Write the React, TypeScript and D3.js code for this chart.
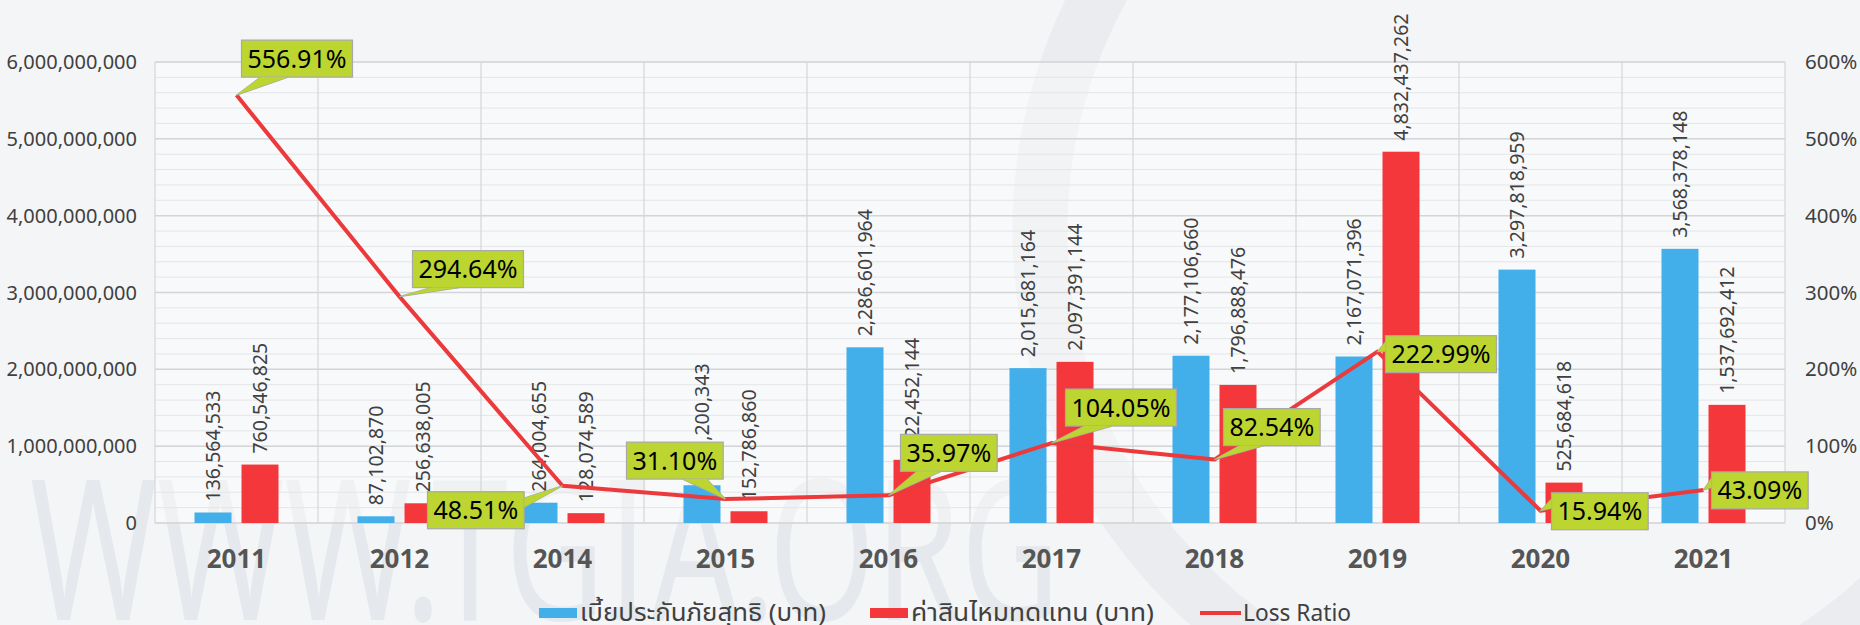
import React, { useEffect, useRef } from 'react';
import * as d3 from 'd3';

// years shown on the category axis
const years = ['2011', '2012', '2014', '2015', '2016', '2017', '2018', '2019', '2020', '2021'];
// net premium (baht)
const premiums = [136564533, 87102870, 264004655, 491200343, 2286601964, 2015681164, 2177106660, 2167071396, 3297818959, 3568378148];
// claims paid (baht)
const claims = [760546825, 256638005, 128074589, 152786860, 822452144, 2097391144, 1796888476, 4832437262, 525684618, 1537692412];
// loss ratio (%)
const lossRatios = [556.91, 294.64, 48.51, 31.1, 35.97, 104.05, 82.54, 222.99, 15.94, 43.09];

const leftTicks = [0, 1e9, 2e9, 3e9, 4e9, 5e9, 6e9];
const rightTicks = [0, 100, 200, 300, 400, 500, 600];
const seriesNames = ['เบี้ยประกันภัยสุทธิ (บาท)', 'ค่าสินไหมทดแทน (บาท)', 'Loss Ratio'];

// where each callout box sits, relative to its point (top-left corner)
const calloutOffsets = [
  [5, -55], [13, -46], [-135, 6], [-99, -57], [12, -61],
  [14, -54], [9, -51], [8, -16], [11, -18], [8, -18],
];
// legend: x of each swatch and the width its text takes
const legendX = [539, 870, 1200];
const legendTextW = [246, 243, 108];

const BLUE = '#42AEEA';
const RED = '#F4373B';
const LIME = '#BCD530';
const FONT = "'Noto Sans', 'Noto Sans Thai', Tahoma, sans-serif";

const App = () => {
  const ref = useRef<SVGSVGElement>(null);

  useEffect(() => {
    const svg = d3.select(ref.current);
    svg.selectAll('*').remove();

    const width = 1860;
    const height = 625;
    const left = 155;
    const right = 1785;
    const top = 62;
    const bottom = 523;

    // background + watermark
    svg.append('rect').attr('width', width).attr('height', height).attr('fill', '#F4F5F7');
    svg
      .append('circle')
      .attr('cx', 1540)
      .attr('cy', 230)
      .attr('r', 500)
      .attr('fill', 'none')
      .attr('stroke', '#EAECEF')
      .attr('stroke-width', 55);
    svg
      .append('text')
      .attr('x', 30)
      .attr('y', 620)
      .attr('font-family', FONT)
      .attr('font-size', 195)
      .attr('textLength', 1030)
      .attr('lengthAdjust', 'spacingAndGlyphs')
      .attr('fill', '#E5E8EC')
      .text('WWW.TGIA.ORG');

    svg
      .append('rect')
      .attr('x', left)
      .attr('y', top)
      .attr('width', right - left)
      .attr('height', bottom - top)
      .attr('fill', '#FFFFFF')
      .attr('opacity', 0.4);

    // scales
    const x = d3.scaleBand().domain(years).range([left, right]).padding(0);
    const x1 = d3.scaleBand().domain(['p', 'c']).range([-42, 42]).paddingInner(0.213);
    const y = d3.scaleLinear().domain([0, 6e9]).range([bottom, top]);
    const yR = d3.scaleLinear().domain([0, 600]).range([bottom, top]);

    // grid
    const grid = svg.append('g');
    grid
      .selectAll('.minor')
      .data(d3.range(0, 6e9 + 1, 2e8))
      .enter()
      .append('line')
      .attr('x1', left)
      .attr('x2', right)
      .attr('y1', (d) => y(d))
      .attr('y2', (d) => y(d))
      .attr('stroke', '#E4E5E7')
      .attr('stroke-width', 1);
    grid
      .selectAll('.major')
      .data(leftTicks)
      .enter()
      .append('line')
      .attr('x1', left)
      .attr('x2', right)
      .attr('y1', (d) => y(d))
      .attr('y2', (d) => y(d))
      .attr('stroke', '#D4D5D7')
      .attr('stroke-width', 1.5);
    grid
      .selectAll('.vert')
      .data(d3.range(years.length + 1))
      .enter()
      .append('line')
      .attr('x1', (i) => left + i * x.step())
      .attr('x2', (i) => left + i * x.step())
      .attr('y1', top)
      .attr('y2', bottom)
      .attr('stroke', '#D4D5D7')
      .attr('stroke-width', 1.2);

    // bars
    const groups = svg
      .selectAll('.year')
      .data(years)
      .enter()
      .append('g')
      .attr('transform', (d) => `translate(${(x(d) as number) + x.bandwidth() / 2},0)`);

    groups
      .append('rect')
      .attr('x', x1('p') as number)
      .attr('width', x1.bandwidth())
      .attr('y', (d, i) => y(premiums[i]))
      .attr('height', (d, i) => bottom - y(premiums[i]))
      .attr('fill', BLUE);
    groups
      .append('rect')
      .attr('x', x1('c') as number)
      .attr('width', x1.bandwidth())
      .attr('y', (d, i) => y(claims[i]))
      .attr('height', (d, i) => bottom - y(claims[i]))
      .attr('fill', RED);

    // bar value labels (rotated)
    const fmt = d3.format(',');
    const barLabel = (key: string, vals: number[]) =>
      groups
        .append('text')
        .attr('transform', (d, i) => `translate(${(x1(key) as number) + x1.bandwidth() / 2 + 7},${y(vals[i]) - 11}) rotate(-90)`)
        .attr('font-family', FONT)
        .attr('font-size', 19.5)
        .attr('fill', '#404040')
        .text((d, i) => fmt(vals[i]));
    barLabel('p', premiums);
    barLabel('c', claims);

    // loss ratio line
    const line = d3
      .line<number>()
      .x((d, i) => (x(years[i]) as number) + x.bandwidth() / 2)
      .y((d) => yR(d));
    svg
      .append('path')
      .datum(lossRatios)
      .attr('d', line)
      .attr('fill', 'none')
      .attr('stroke', '#EC3A3C')
      .attr('stroke-width', 4)
      .attr('stroke-linejoin', 'round');

    // callouts
    lossRatios.forEach((v, i) => {
      const tx = (x(years[i]) as number) + x.bandwidth() / 2;
      const ty = yR(v);
      const g = svg.append('g');
      const label = g
        .append('text')
        .attr('font-family', FONT)
        .attr('font-size', 25)
        .attr('fill', '#000')
        .attr('text-anchor', 'middle')
        .text(d3.format('.2f')(v) + '%');
      const w = (label.node() as SVGTextElement).getComputedTextLength() + 12;
      const h = 37;
      const bx = tx + calloutOffsets[i][0];
      const by = ty + calloutOffsets[i][1];
      const cx = bx + w / 2;
      const cy = by + h / 2;
      const dxn = (tx - cx) / w;
      const dyn = (ty - cy) / h;
      let pts: number[][];
      if (Math.abs(dxn) > Math.abs(dyn)) {
        const ex = dxn > 0 ? bx + w : bx;
        const f = dyn < 0 ? [0.17, 0.42] : [0.58, 0.83];
        pts = [[ex, by + h * f[0]], [tx, ty], [ex, by + h * f[1]]];
      } else {
        const ey = dyn > 0 ? by + h : by;
        const f = dxn < 0 ? [0.17, 0.42] : [0.58, 0.83];
        pts = [[bx + w * f[0], ey], [tx, ty], [bx + w * f[1], ey]];
      }
      const wedge = d3.line()(pts as [number, number][]) + 'Z';
      g.insert('path', 'text').attr('d', wedge).attr('fill', LIME).attr('stroke', '#A8A8A8').attr('stroke-width', 1.2);
      g.insert('rect', 'text')
        .attr('x', bx)
        .attr('y', by)
        .attr('width', w)
        .attr('height', h)
        .attr('fill', LIME)
        .attr('stroke', '#A8A8A8')
        .attr('stroke-width', 1.2);
      // cover the seam between wedge and box
      g.insert('path', 'text').attr('d', wedge).attr('fill', LIME);
      label.attr('x', cx).attr('y', cy + 9);
    });

    // left axis labels
    svg
      .selectAll('.yl')
      .data(leftTicks)
      .enter()
      .append('text')
      .attr('x', 137)
      .attr('y', (d) => y(d) + 7)
      .attr('text-anchor', 'end')
      .attr('font-family', FONT)
      .attr('font-size', 20)
      .attr('fill', '#404040')
      .text((d) => fmt(d));

    // right axis labels
    svg
      .selectAll('.yr')
      .data(rightTicks)
      .enter()
      .append('text')
      .attr('x', 1805)
      .attr('y', (d) => yR(d) + 7)
      .attr('font-family', FONT)
      .attr('font-size', 20.5)
      .attr('fill', '#404040')
      .text((d) => d + '%');

    // category labels
    svg
      .selectAll('.xl')
      .data(years)
      .enter()
      .append('text')
      .attr('x', (d) => (x(d) as number) + x.bandwidth() / 2)
      .attr('y', 568)
      .attr('text-anchor', 'middle')
      .attr('font-family', FONT)
      .attr('font-size', 26)
      .attr('font-weight', 'bold')
      .attr('fill', '#555555')
      .text((d) => d);

    // legend
    const legend = svg.append('g');
    const ly = 613;
    seriesNames.forEach((name, i) => {
      const lx = legendX[i];
      if (i < 2) {
        legend
          .append('rect')
          .attr('x', lx)
          .attr('y', ly - 5)
          .attr('width', 38)
          .attr('height', 10)
          .attr('fill', i === 0 ? BLUE : RED);
      } else {
        legend
          .append('line')
          .attr('x1', lx)
          .attr('x2', lx + 41)
          .attr('y1', ly)
          .attr('y2', ly)
          .attr('stroke', '#EC3A3C')
          .attr('stroke-width', 4);
      }
      legend
        .append('text')
        .attr('x', lx + (i < 2 ? 41 : 43))
        .attr('y', ly + 8)
        .attr('font-family', FONT)
        .attr('font-size', 24)
        .attr('textLength', legendTextW[i])
        .attr('lengthAdjust', 'spacingAndGlyphs')
        .attr('fill', '#404040')
        .text(name);
    });
  }, []);

  return (
    <div className="chart">
      <svg ref={ref} width="1860" height="625" style={{ position: 'fixed', left: 0, top: 0 }}></svg>
    </div>
  );
};

export default App;
